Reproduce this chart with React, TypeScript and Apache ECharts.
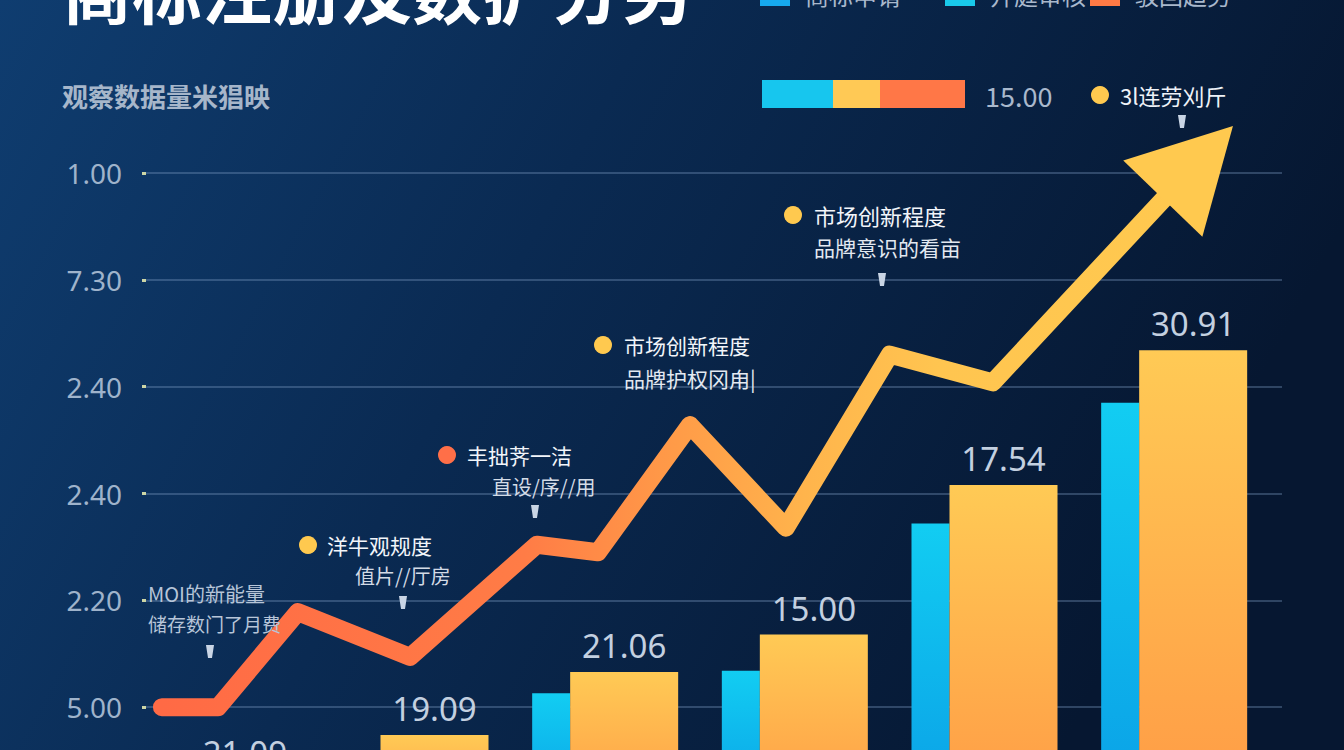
import React, { useEffect, useRef } from "react";
import * as echarts from "echarts";

const titleText = "商标注册及数扩分另";
const subtitleText = "观察数据量米猖映";
const yTickLabels = ["", "5.00", "2.20", "2.40", "2.40", "7.30", "1.00"];
const categories = ["一期", "二期", "三期", "四期", "五期", "六期"];
const cyanValues = [0.2, 0.45, 1.13, 1.34, 2.72, 3.85];
const yellowValues = [0.33, 0.74, 1.33, 1.68, 3.08, 4.34];
const barLabels = ["21.09", "19.09", "21.06", "15.00", "17.54", "30.91"];
const trendX = [-0.337, -0.041, 0.38, 0.971, 1.64, 1.962, 2.447, 2.953, 3.501, 4.044, 5.125];
const trendY = [1.0, 1.0, 1.89, 1.47, 2.52, 2.45, 3.64, 2.68, 4.3, 4.04, 6.1];
const legendNames = ["商标申请", "开庭审核", "驳回趋势"];
const legendColors = ["#16a9ee", "#19c9ea", "#ff7a45"];

const FONT = "'Noto Sans CJK SC', 'Noto Sans', sans-serif";

function pin(x: number, y: number) {
  return {
    type: "polygon",
    z: 20,
    shape: { points: [[x - 4, y], [x + 4, y], [x + 2, y + 13], [x - 2, y + 13]] },
    style: { fill: "#c9d5e5" },
  };
}
function dot(x: number, y: number, color: string) {
  return { type: "circle", z: 20, shape: { cx: x, cy: y, r: 9 }, style: { fill: color } };
}
function txt(x: number, y: number, text: string, size: number, color: string, weight = "normal") {
  return {
    type: "text",
    z: 20,
    x,
    y,
    style: { text, fill: color, fontSize: size, fontFamily: FONT, fontWeight: weight, verticalAlign: "middle" },
  };
}

export default function App() {
  const ref = useRef<HTMLDivElement>(null);
  useEffect(() => {
    if (!ref.current) return;
    const chart = echarts.init(ref.current, undefined, { renderer: "svg" });
    const lineData = trendX.map((x, i) => {
      if (i === trendX.length - 1) {
        return {
          value: [x, trendY[i]],
          symbol: "triangle",
          symbolSize: [110, 101],
          symbolRotate: -44,
          itemStyle: { color: "#ffc94f", borderWidth: 0 },
        };
      }
      return { value: [x, trendY[i]] };
    });

    const graphic: any[] = [
      txt(62, -12, titleText, 70, "#ffffff", "bold"),
      txt(62, 95, subtitleText, 26, "#a6b6ca", "bold"),
      ...legendNames.flatMap((n, i) => {
        const x0 = [760, 945, 1090][i];
        return [
          { type: "rect", z: 20, shape: { x: x0, y: -16, width: 30, height: 22 }, style: { fill: legendColors[i] } },
          txt(x0 + 45, -6, n, 24, "#a9b8cc"),
        ];
      }),
      { type: "rect", z: 20, shape: { x: 762, y: 80, width: 71, height: 28 }, style: { fill: "#17c6ee" } },
      { type: "rect", z: 20, shape: { x: 833, y: 80, width: 47, height: 28 }, style: { fill: "#ffc955" } },
      { type: "rect", z: 20, shape: { x: 880, y: 80, width: 85, height: 28 }, style: { fill: "#ff7747" } },
      txt(985, 95, "15.00", 27, "#a9b8cc"),
      dot(1100, 95, "#ffc94f"),
      txt(1120, 95, "3l连劳刈斤", 22, "#eef2f8"),
      pin(1182, 115),
      txt(148, 593, "MOI的新能量", 20, "#b7c5d8"),
      txt(148, 623, "储存数门了月费", 19, "#b7c5d8"),
      pin(210, 645),
      dot(308, 545, "#ffc94f"),
      txt(327, 545, "洋牛观规度", 21, "#f2f5fa"),
      txt(355, 575, "值片//厅房", 20, "#d3dbe6"),
      pin(403, 596),
      dot(447, 455, "#ff6f48"),
      txt(467, 455, "丰拙荠一洁", 21, "#f2f5fa"),
      txt(492, 486, "直设/序//用", 20, "#d3dbe6"),
      pin(535, 505),
      dot(603, 345, "#ffc94f"),
      txt(624, 345, "市场创新程度", 21, "#f2f5fa"),
      txt(624, 378, "品牌护权冈甪|", 21, "#e3e9f1"),
      dot(793, 215, "#ffc94f"),
      txt(814, 215, "市场创新程度", 22, "#f2f5fa"),
      txt(814, 247, "品牌意识的看亩", 21, "#e3e9f1"),
      pin(882, 273),
    ];

    chart.setOption({
      animation: false,
      backgroundColor: new echarts.graphic.LinearGradient(0, 0, 1, 0.3, [
        { offset: 0, color: "#0f3d70" },
        { offset: 0.45, color: "#0a2a52" },
        { offset: 1, color: "#061731" },
      ]),
      grid: [
        { left: 146, width: 1136, top: 173, height: 641, outerBoundsMode: "none", containLabel: false },
        { left: 131, width: 1138, top: 173, height: 641, outerBoundsMode: "none", containLabel: false },
      ],
      xAxis: [
        { type: "value", gridIndex: 0, min: 0, max: 1, show: false },
        { type: "category", gridIndex: 1, data: categories, show: false },
        { type: "value", gridIndex: 1, min: -0.5, max: 5.5, show: false },
      ],
      yAxis: [
        {
          type: "value",
          gridIndex: 0,
          min: 0,
          max: 6,
          interval: 1,
          axisLine: { show: false },
          axisTick: { show: true, length: 4, lineStyle: { color: "#cdd6a6", width: 3 } },
          axisLabel: {
            margin: 24,
            color: "#9fb3cb",
            fontSize: 28,
            fontFamily: "'Noto Sans', sans-serif",
            formatter: (v: number) => yTickLabels[Math.round(v)] ?? "",
          },
          splitLine: { show: true, lineStyle: { color: "rgba(130,160,200,0.45)", width: 1.5 } },
        },
        { type: "value", gridIndex: 1, min: 0, max: 6, interval: 1, show: false, splitLine: { show: false } },
      ],
      graphic,
      series: [
        {
          type: "bar",
          xAxisIndex: 1,
          yAxisIndex: 1,
          data: cyanValues,
          barWidth: 38,
          barGap: "0%",
          itemStyle: {
            color: new echarts.graphic.LinearGradient(0, 0, 0, 1, [
              { offset: 0, color: "#12cdf2" },
              { offset: 1, color: "#0a9fe6" },
            ]),
          },
          z: 2,
        },
        {
          type: "bar",
          xAxisIndex: 1,
          yAxisIndex: 1,
          data: yellowValues,
          barWidth: 108,
          barGap: "0%",
          itemStyle: {
            color: new echarts.graphic.LinearGradient(0, 0, 0, 1, [
              { offset: 0, color: "#ffca55" },
              { offset: 1, color: "#ff9a45" },
            ]),
          },
          label: {
            show: true,
            position: "top",
            distance: 10,
            color: "#c3d0e0",
            fontSize: 33,
            fontFamily: "'Noto Sans', sans-serif",
            formatter: (p: any) => barLabels[p.dataIndex],
          },
          z: 2,
        },
        {
          type: "line",
          xAxisIndex: 2,
          yAxisIndex: 1,
          data: lineData,
          clip: false,
          symbol: "none",
          showSymbol: true,
          z: 5,
          lineStyle: {
            width: 18,
            cap: "round",
            join: "round",
            color: new echarts.graphic.LinearGradient(0, 0, 1, 0, [
              { offset: 0, color: "#ff6a45" },
              { offset: 0.35, color: "#ff7c46" },
              { offset: 0.5, color: "#ff9c48" },
              { offset: 0.62, color: "#ffb44c" },
              { offset: 0.75, color: "#ffc550" },
              { offset: 1, color: "#ffc94f" },
            ]),
          },
        },
      ],
    });
    return () => chart.dispose();
  }, []);
  return <div ref={ref} style={{ position: "fixed", left: 0, top: 0, width: 1344, height: 750 }} />;
}
